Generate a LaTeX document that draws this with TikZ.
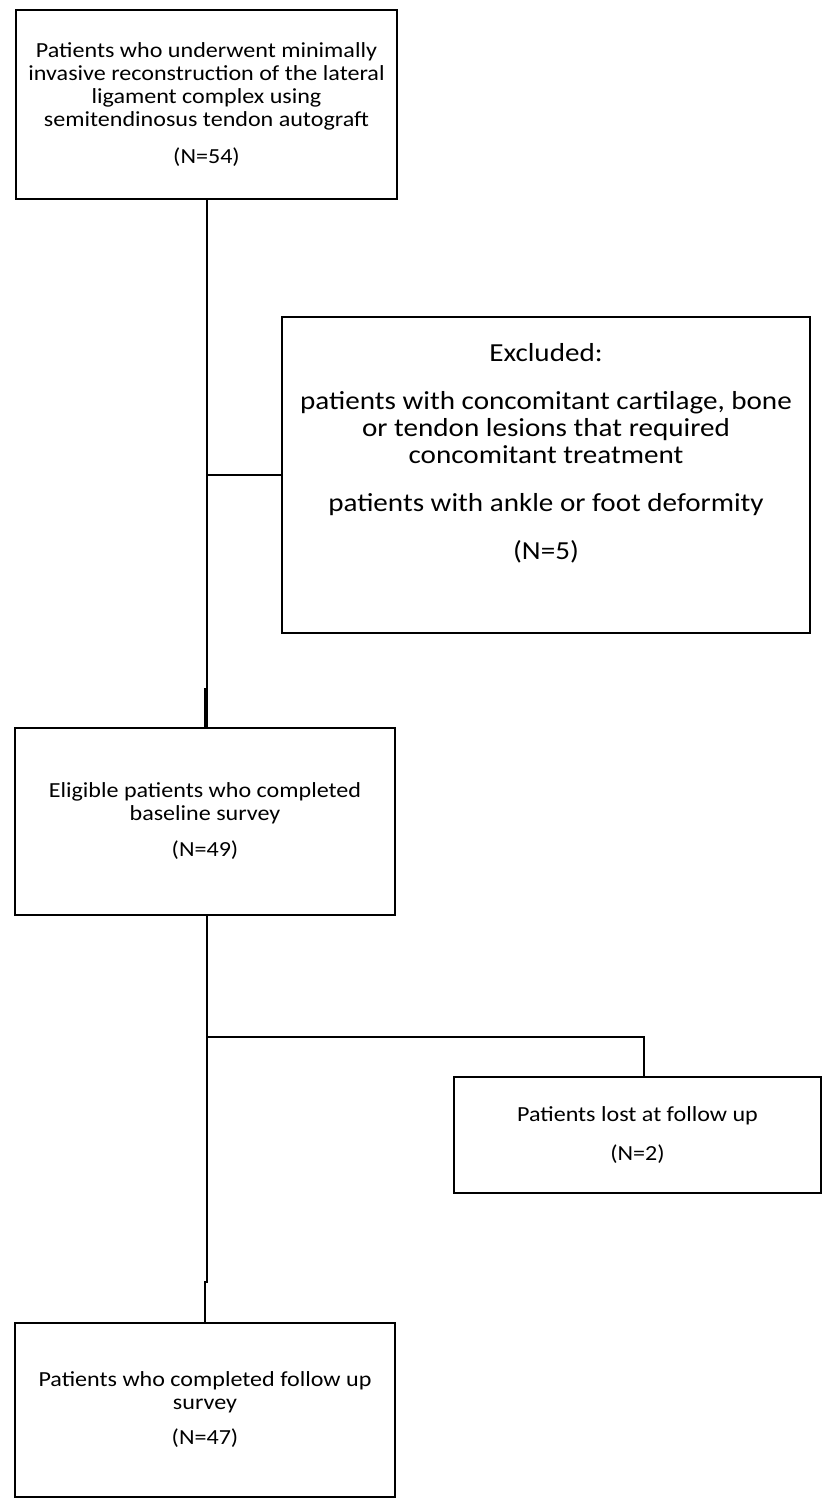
\documentclass[tikz,border=0pt]{standalone}
\usepackage{fontspec}
\setmainfont{Carlito}[FakeStretch=1.12]
\usetikzlibrary{positioning}

\tikzset{
  flowbox/.style={draw, line width=2pt, align=center, inner sep=0pt},
  link/.style={line width=2pt},
  smalltext/.style={font=\fontsize{21.5}{23}\selectfont},
  bigtext/.style={font=\fontsize{26}{27}\selectfont},
}

\begin{document}
\begin{tikzpicture}[x=1pt,y=-1pt]
\useasboundingbox (0,0) rectangle (823,1503);

% boxes
\node[flowbox, smalltext, minimum width=381pt, minimum height=189pt] (operated) at (206.5,104.5)
  {Patients who underwent minimally\\ invasive reconstruction of the lateral\\ ligament complex using\\ semitendinosus tendon autograft\\[14pt] (N=54)};
\node[flowbox, minimum width=528pt, minimum height=316pt] (excluded) at (546,475) {};
\node[bigtext, align=center] (excludedtxt) at (546,453)
  {Excluded:\\[21pt] patients with concomitant cartilage, bone\\ or tendon lesions that required\\ concomitant treatment\\[21pt] patients with ankle or foot deformity\\[21pt] (N=5)};
\node[flowbox, smalltext, minimum width=380pt, minimum height=187pt] (eligible) at (205,821.5)
  {Eligible patients who completed\\ baseline survey\\[13pt] (N=49)};
\node[flowbox, smalltext, minimum width=367pt, minimum height=116pt] (lost) at (637.5,1135)
  {Patients lost at follow up\\[16pt] (N=2)};
\node[flowbox, smalltext, minimum width=380pt, minimum height=174pt] (followup) at (205,1410)
  {Patients who completed follow up\\ survey\\[12pt] (N=47)};

% connectors
\coordinate (jogA) at (204.5,688);
\coordinate (jogB) at (207,1282);
\coordinate (branchB) at (207,1037);
\draw[link] (operated.south) -- (operated.south |- eligible.north);
\draw[link] (jogA) -- (jogA |- eligible.north);
\draw[link] (operated.south |- excluded.west) -- (excluded.west);
\draw[link] (eligible.south -| jogB) -- (jogB) -- (jogB -| followup.north) -- (followup.north);
\draw[link] (branchB) -| (lost.north -| 644,0);
\end{tikzpicture}
\end{document}
